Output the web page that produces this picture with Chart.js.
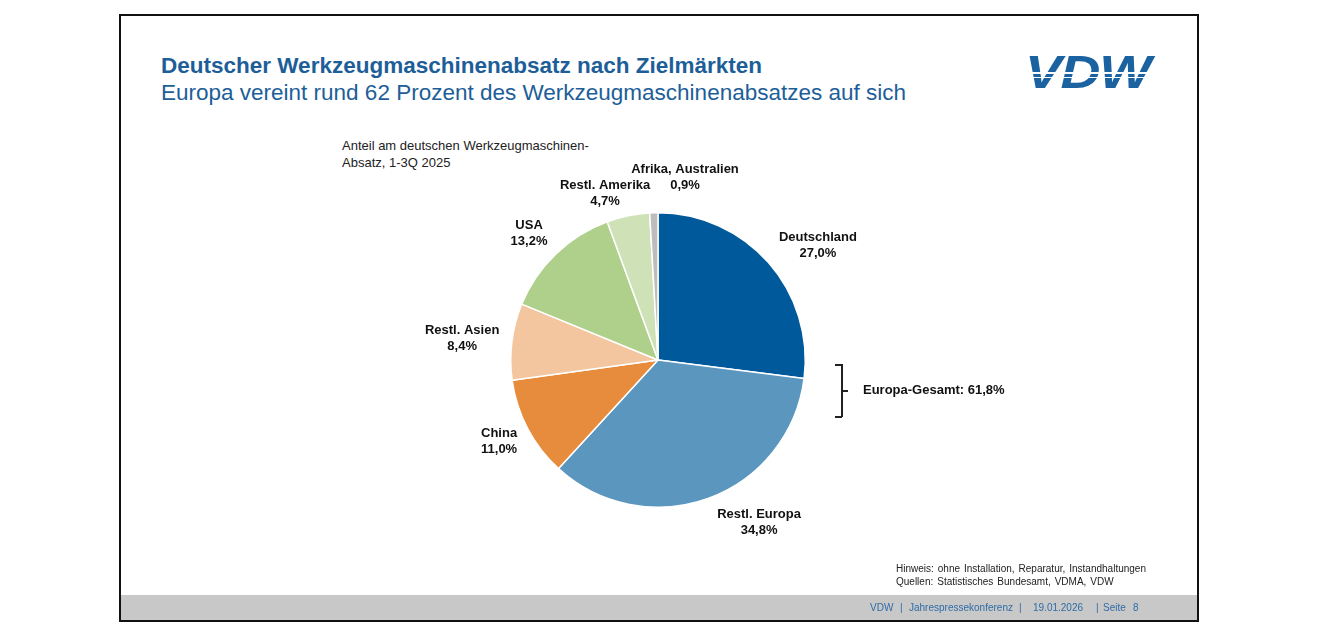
<!DOCTYPE html>
<html>
<head>
<meta charset="utf-8">
<script src="https://cdn.jsdelivr.net/npm/chart.js"></script>
<style>
  body { margin: 0; background: #fff; font-family: "Liberation Sans", Arial, sans-serif; }
  #slide { position: absolute; left: 119px; top: 14px; width: 1076px; height: 604px; border: 2px solid #111; background: #fff; overflow: hidden; }
  .abs { position: absolute; white-space: nowrap; }
  #title { left: 40px; top: 37px; font-size: 22.5px; font-weight: bold; color: #1d5e98; }
  #subtitle { left: 40px; top: 64px; font-size: 22.5px; color: #1d5e98; }
  #logo { left: 904px; top: 33px; font-size: 46px; font-weight: 900; font-style: italic; color: #1b62a0; letter-spacing: -1px; transform: scaleX(1.2); transform-origin: left top; line-height: 46px; }
  .stripe { position: absolute; left: 900px; width: 150px; height: 1.5px; background: #fff; }
  #note { left: 221px; top: 121px; font-size: 13px; color: #222; line-height: 17px; }
  #foot { left: 775px; top: 547px; font-size: 10px; color: #222; line-height: 12.5px; word-spacing: 1.2px; }
  #bar { left: 0; top: 579px; width: 1076px; height: 25px; background: #c8c8c8; }
  .bt { top: 586px; font-size: 10px; color: #2f6ca6; }
  #europa { left: 742px; top: 366px; font-size: 13px; font-weight: bold; color: #111; }
  .br { position: absolute; background: #222; }
  #chartbox { position: absolute; left: 277px; top: 134px; width: 520px; height: 420px; }
</style>
</head>
<body>
<div id="slide">
  <div class="abs" id="title">Deutscher Werkzeugmaschinenabsatz nach Zielmärkten</div>
  <div class="abs" id="subtitle">Europa vereint rund 62 Prozent des Werkzeugmaschinenabsatzes auf sich</div>
  <div class="abs" id="logo">VDW</div>
  <div class="stripe" style="top:56px"></div>
  <div class="stripe" style="top:60.5px"></div>
  <div class="abs" id="note">Anteil am deutschen Werkzeugmaschinen-<br>Absatz, 1-3Q 2025</div>
  <div id="chartbox"><canvas id="myChart"></canvas></div>
  <div class="br" style="left:720px; top:348px; width:1.5px; height:53px;"></div>
  <div class="br" style="left:714px; top:348px; width:7px; height:1.5px;"></div>
  <div class="br" style="left:714px; top:400px; width:7px; height:1.5px;"></div>
  <div class="br" style="left:721px; top:374px; width:6px; height:1.5px;"></div>
  <div class="abs" id="europa">Europa-Gesamt: 61,8%</div>
  <div class="abs" id="foot">Hinweis: ohne Installation, Reparatur, Instandhaltungen<br>Quellen: Statistisches Bundesamt, VDMA, VDW</div>
  <div class="abs" id="bar"></div>
  <div class="abs bt" style="left:749px">VDW</div>
  <div class="abs bt" style="left:779px">|</div>
  <div class="abs bt" style="left:788px">Jahrespressekonferenz</div>
  <div class="abs bt" style="left:898px">|</div>
  <div class="abs bt" style="left:912px">19.01.2026</div>
  <div class="abs bt" style="left:975px">|</div>
  <div class="abs bt" style="left:982px">Seite</div>
  <div class="abs bt" style="left:1012px">8</div>
</div>
<script>
const regions = ['Deutschland', 'Restl. Europa', 'China', 'Restl. Asien', 'USA', 'Restl. Amerika', 'Afrika, Australien'];
const shares = [27.0, 34.8, 11.0, 8.4, 13.2, 4.7, 0.9];
const colors = ['#00599b', '#5b96bf', '#e68c3c', '#f3c6a0', '#aed08a', '#cfe2b7', '#bdbdbd'];
// label nudges from the point 30px outside each slice
const nudges = [[27, 2], [40, -5], [-2, -2], [-20, 0], [-6, 0], [-17, 6], [32, -6]];

const pieLabels = {
  id: 'pieLabels',
  afterDatasetsDraw(chart) {
    const c = chart.ctx;
    const meta = chart.getDatasetMeta(0);
    c.save();
    c.font = 'bold 13px "Liberation Sans", Arial, sans-serif';
    c.fillStyle = '#111';
    c.textAlign = 'center';
    c.textBaseline = 'middle';
    meta.data.forEach((arc, i) => {
      const mid = (arc.startAngle + arc.endAngle) / 2;
      const d = arc.outerRadius + 30;
      const x = arc.x + Math.cos(mid) * d + nudges[i][0];
      const y = arc.y + Math.sin(mid) * d + nudges[i][1];
      const pct = shares[i].toFixed(1).replace('.', ',') + '%';
      c.fillText(regions[i], x, y - 7);
      c.fillText(pct, x, y + 9);
    });
    c.restore();
  }
};

const ctx = document.getElementById('myChart');

new Chart(ctx, {
  type: 'pie',
  data: {
    labels: regions,
    datasets: [{
      data: shares,
      backgroundColor: colors,
      borderColor: '#fff',
      borderWidth: 1.5
    }]
  },
  options: {
    responsive: true,
    maintainAspectRatio: false,
    animation: false,
    layout: { padding: { left: 112, right: 112, top: 62, bottom: 62 } },
    plugins: {
      legend: { display: false },
      tooltip: { enabled: false }
    }
  },
  plugins: [pieLabels]
});
</script>
</body>
</html>
